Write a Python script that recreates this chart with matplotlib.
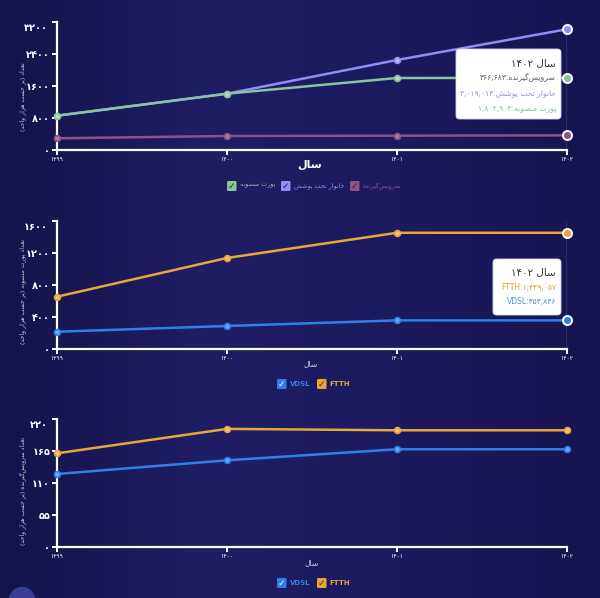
import numpy as np
import matplotlib
matplotlib.use('Agg')
import matplotlib.pyplot as plt
from matplotlib.colors import LinearSegmentedColormap
from matplotlib.patches import FancyBboxPatch, Circle

plt.rcParams['font.family'] = ['DejaVu Sans']

# ---------------- data ----------------
years = [1399, 1400, 1401, 1402]

ports_installed = [857, 1408, 1800, 1802.903]
households_covered = [857, 1408, 2250, 3019.013]
subscribers = [292, 350, 358, 366.683]

port_ftth = [650, 1134, 1449, 1449.057]
port_vdsl = [212, 284, 354, 353.846]

sub_ftth = [161, 203, 200.6, 200.6]
sub_vdsl = [125.5, 149, 168, 168]

top_ticks = [0, 800, 1600, 2400, 3200]
mid_ticks = [0, 400, 800, 1200, 1600]
bot_ticks = [0, 55, 110, 165, 220]

tip_top = ['366,683', '3,019,013', '1,802,903']
tip_mid = ['1,449,057', '353,846']

# ---------------- persian text helpers ----------------
FORMS = {
    '\u0627': ('\uFE8D', '\uFE8E'),
    '\u0628': ('\uFE8F', '\uFE90', '\uFE91', '\uFE92'),
    '\u067E': ('\uFB56', '\uFB57', '\uFB58', '\uFB59'),
    '\u062A': ('\uFE95', '\uFE96', '\uFE97', '\uFE98'),
    '\u062D': ('\uFEA1', '\uFEA2', '\uFEA3', '\uFEA4'),
    '\u062E': ('\uFEA5', '\uFEA6', '\uFEA7', '\uFEA8'),
    '\u062F': ('\uFEA9', '\uFEAA'),
    '\u0631': ('\uFEAD', '\uFEAE'),
    '\u0632': ('\uFEAF', '\uFEB0'),
    '\u0633': ('\uFEB1', '\uFEB2', '\uFEB3', '\uFEB4'),
    '\u0634': ('\uFEB5', '\uFEB6', '\uFEB7', '\uFEB8'),
    '\u0635': ('\uFEB9', '\uFEBA', '\uFEBB', '\uFEBC'),
    '\u0639': ('\uFEC9', '\uFECA', '\uFECB', '\uFECC'),
    '\u06AF': ('\uFB92', '\uFB93', '\uFB94', '\uFB95'),
    '\u0644': ('\uFEDD', '\uFEDE', '\uFEDF', '\uFEE0'),
    '\u0645': ('\uFEE1', '\uFEE2', '\uFEE3', '\uFEE4'),
    '\u0646': ('\uFEE5', '\uFEE6', '\uFEE7', '\uFEE8'),
    '\u0647': ('\uFEE9', '\uFEEA', '\uFEEB', '\uFEEC'),
    '\u0648': ('\uFEED', '\uFEEE'),
    '\u06CC': ('\uFBFC', '\uFBFD', '\uFBFE', '\uFBFF'),
}


def fa(text):
    # join letters and put them in visual (left to right) order
    out = []
    for i, ch in enumerate(text):
        forms = FORMS.get(ch)
        if forms is None:
            if ch != '\u200c':
                out.append(ch)
            continue
        prev = FORMS.get(text[i - 1]) if i > 0 else None
        nxt = FORMS.get(text[i + 1]) if i + 1 < len(text) else None
        jp = prev is not None and len(prev) == 4
        jn = nxt is not None and len(forms) == 4
        if jp and jn:
            out.append(forms[3])
        elif jp:
            out.append(forms[1])
        elif jn:
            out.append(forms[2])
        else:
            out.append(forms[0])
    mirror = {'(': ')', ')': '('}
    return ''.join(mirror.get(c, c) for c in reversed(out))


def fnum(s):
    return str(s).translate(str.maketrans('0123456789', '\u06f0\u06f1\u06f2\u06f3\u06f4\u06f5\u06f6\u06f7\u06f8\u06f9'))


lbl_year = 'سال'
lbl_ports = 'پورت منصوبه'
lbl_house = 'خانوار تحت پوشش'
lbl_subs = 'سرویس\u200cگیرنده'
ylab_top = 'تعداد (بر حسب هزار واحد)'
ylab_mid = 'تعداد پورت منصوبه (بر حسب هزار واحد)'
ylab_bot = 'تعداد سرویس\u200cگیرنده (بر حسب هزار واحد)'

# ---------------- colours ----------------
GREEN = '#8cc49a'
LAV = '#8d8ff5'
PURP = '#8a5484'
ORANGE = '#e9a43a'
BLUE = '#2f80e6'

W, H = 600, 598
fig = plt.figure(figsize=(6, 5.98), dpi=100)

# background gradient
bg = fig.add_axes([0, 0, 1, 1], zorder=-5)
cmap = LinearSegmentedColormap.from_list('bg', ['#14144a', '#1f1d64', '#1c1a5e', '#161450'])
bg.imshow(np.linspace(0, 1, 256)[None, :], aspect='auto', cmap=cmap, extent=[0, 1, 0, 1])
bg.axis('off')
fig.patches.append(Circle((22 / W, 1 - 600 / H), 12.5 / W, transform=fig.transFigure,
                          color='#3a3d96', zorder=-4))


def px_axes(x0, y0, x1, y1):
    return fig.add_axes([x0 / W, 1 - y1 / H, (x1 - x0) / W, (y1 - y0) / H])


def style(ax, ticks):
    ax.set_facecolor('none')
    for s in ['top', 'right']:
        ax.spines[s].set_visible(False)
    for s in ['left', 'bottom']:
        ax.spines[s].set_color('white')
        ax.spines[s].set_linewidth(1.6)
    ax.set_xlim(years[0], years[-1])
    ax.set_ylim(ticks[0], ticks[-1])
    ax.set_xticks(years)
    ax.set_xticklabels([fnum(y) for y in years], fontsize=4.3, color='white')
    ax.set_yticks(ticks)
    ax.set_yticklabels([fnum(t) for t in ticks[:-1]] + [''], fontsize=7,
                       color='white', fontweight='bold')
    ax.tick_params(axis='both', colors='white', length=3.5, width=1.4, pad=1.5)
    # the top label of the axis sits a bit lower than its tick
    ax.annotate(fnum(ticks[-1]), xy=(0, ticks[-1]), xycoords=('axes fraction', 'data'),
                xytext=(-6.5, -4.5), textcoords='offset points', ha='right', va='center',
                fontsize=7, color='white', fontweight='bold', annotation_clip=False)


def series(ax, vals, color, face, hover=False, ms=4.2):
    ax.plot(years, vals, color=color, lw=1.8, marker='o', ms=ms, mfc=face, mec=color,
            mew=1.2, clip_on=False, zorder=3)
    if hover:
        ax.plot(years[-1], vals[-1], marker='o', ms=6.5, mfc=color, mec='white',
                mew=1.4, clip_on=False, zorder=5)


def legend(items, y, size):
    for x, text, color, check in items:
        box = FancyBboxPatch(((x) / W, 1 - (y + 5) / H), 9.5 / W, 10 / H,
                             boxstyle='round,pad=0,rounding_size=0.002',
                             transform=fig.transFigure, facecolor=color, edgecolor='none')
        fig.patches.append(box)
        fig.text((x + 4.8) / W, 1 - y / H, '\u2713', color=check, fontsize=6.5,
                 fontweight='bold', ha='center', va='center')
        fig.text((x + 12.5) / W, 1 - y / H, text, color=color, fontsize=size,
                 ha='left', va='center', fontweight='bold' if text.isascii() else 'normal')


def tooltip(x0, y0, x1, y1, lines):
    fig.patches.append(FancyBboxPatch((x0 / W, 1 - y1 / H), (x1 - x0) / W, (y1 - y0) / H,
                                      boxstyle='round,pad=0,rounding_size=0.006',
                                      transform=fig.transFigure, facecolor='white',
                                      edgecolor='#d8d8e8', lw=0.6, zorder=10))
    for yy, text, color, size in lines:
        fig.text((x1 - 5) / W, 1 - yy / H, text, color=color, fontsize=size,
                 ha='right', va='center', zorder=11)


# ---------------- top chart ----------------
ax1 = px_axes(57, 22, 567, 150)
style(ax1, top_ticks)
ax1.axvline(years[-1], color='#9a9ac4', lw=1, zorder=1)
series(ax1, households_covered, LAV, '#b8b9fa', hover=True)
series(ax1, ports_installed, GREEN, '#b4dcbc', hover=True)
series(ax1, subscribers, PURP, '#b07aa8', hover=True)
fig.text(310 / W, 1 - 165 / H, fa(lbl_year), color='white', fontsize=8,
         fontweight='bold', ha='center', va='center')
fig.text(23 / W, 1 - 97 / H, fa(ylab_top), color='#c9c9dc', fontsize=4.4,
         rotation=90, ha='center', va='center')
legend([(227, fa(lbl_ports), GREEN, '#1c3a24'),
        (281, fa(lbl_house), LAV, '#1d1d55'),
        (350, fa(lbl_subs), PURP, '#3a1f38')], 186, 4.6)
tooltip(456, 49, 561, 119, [
    (63, fnum(years[-1]) + ' ' + fa(lbl_year), '#333333', 7.4),
    (77.5, fnum(tip_top[0]) + ':' + fa(lbl_subs), '#6e5670', 5.5),
    (92.5, fnum(tip_top[1]) + ':' + fa(lbl_house), '#9395e6', 5.5),
    (107.5, fnum(tip_top[2]) + ':' + fa(lbl_ports), '#90c29c', 5.5),
])

# ---------------- middle chart ----------------
ax2 = px_axes(57, 220.7, 567, 348.7)
style(ax2, mid_ticks)
ax2.axvline(years[-1], color='#9a9ac4', lw=1, zorder=1)
series(ax2, port_vdsl, BLUE, '#6aa8f2', hover=True)
series(ax2, port_ftth, ORANGE, '#f3c36e', hover=True)
fig.text(311 / W, 1 - 364 / H, fa(lbl_year), color='#d0d0e0', fontsize=5.5,
         ha='center', va='center')
fig.text(23 / W, 1 - 292 / H, fa(ylab_mid), color='#c9c9dc', fontsize=4.4,
         rotation=90, ha='center', va='center')
legend([(277, 'VDSL', BLUE, 'white'), (317, 'FTTH', ORANGE, '#3a2a10')], 384, 5)
tooltip(493, 259, 561, 315, [
    (272, fnum(years[-1]) + ' ' + fa(lbl_year), '#333333', 7.4),
    (287.5, 'FTTH:' + fnum(tip_mid[0]), '#d9a33c', 5.5),
    (301.5, 'VDSL:' + fnum(tip_mid[1]), '#4a93cf', 5.5),
])

# ---------------- bottom chart ----------------
ax3 = px_axes(57, 419, 567, 547)
style(ax3, bot_ticks)
series(ax3, sub_vdsl, BLUE, '#6aa8f2')
series(ax3, sub_ftth, ORANGE, '#f3c36e')
fig.text(312 / W, 1 - 563 / H, fa(lbl_year), color='#d0d0e0', fontsize=5.5,
         ha='center', va='center')
fig.text(23 / W, 1 - 491 / H, fa(ylab_bot), color='#c9c9dc', fontsize=4.4,
         rotation=90, ha='center', va='center')
legend([(277, 'VDSL', BLUE, 'white'), (317, 'FTTH', ORANGE, '#3a2a10')], 583, 5)

fig.savefig('out.png', dpi=100)
